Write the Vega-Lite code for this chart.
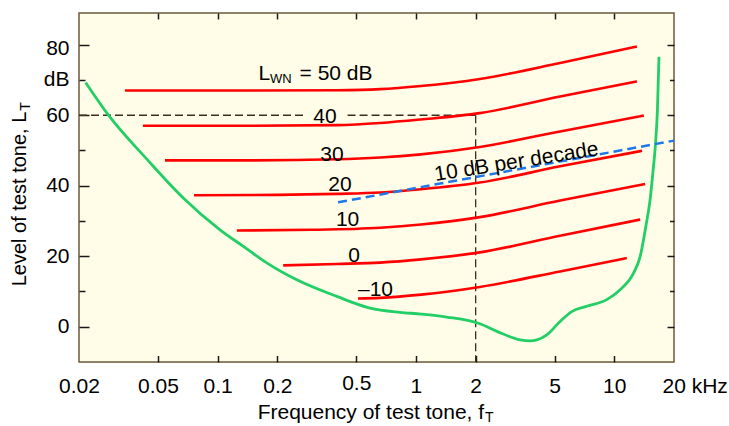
{
  "$schema": "https://vega.github.io/schema/vega-lite/v6.json",
  "width": 595,
  "height": 349,
  "autosize": "none",
  "padding": {"left": 79, "top": 13, "right": 55, "bottom": 64},
  "background": "#ffffff",
  "config": {
    "view": {"fill": "#FFFDE8", "stroke": "#6B5A3A", "strokeWidth": 1.5},
    "font": "Liberation Sans",
    "axis": {"labelFont": "Liberation Sans", "labelColor": "#000000", "tickColor": "#1a1a1a", "tickWidth": 1.5, "domain": false, "grid": false, "labelOverlap": false, "labelFlush": false, "labelBound": false},
    "text": {"font": "Liberation Sans", "color": "#000000"}
  },
  "datasets": {
    "masked": [
      {"wn": 50, "freq": 0.0341, "level": 67.0}, {"wn": 50, "freq": 0.15, "level": 67.0}, {"wn": 50, "freq": 0.4, "level": 67.1}, {"wn": 50, "freq": 0.66, "level": 67.4}, {"wn": 50, "freq": 1.06, "level": 68.3}, {"wn": 50, "freq": 2.1, "level": 70.3}, {"wn": 50, "freq": 5.33, "level": 74.8}, {"wn": 50, "freq": 13.0, "level": 79.5},
      {"wn": 40, "freq": 0.042, "level": 57.0}, {"wn": 40, "freq": 0.15, "level": 57.0}, {"wn": 40, "freq": 0.4, "level": 57.2}, {"wn": 40, "freq": 0.66, "level": 57.8}, {"wn": 40, "freq": 1.06, "level": 58.8}, {"wn": 40, "freq": 2.1, "level": 60.6}, {"wn": 40, "freq": 5.33, "level": 65.3}, {"wn": 40, "freq": 13.0, "level": 69.6},
      {"wn": 30, "freq": 0.0543, "level": 47.2}, {"wn": 30, "freq": 0.15, "level": 47.2}, {"wn": 30, "freq": 0.4, "level": 47.5}, {"wn": 30, "freq": 0.66, "level": 48.0}, {"wn": 30, "freq": 1.06, "level": 48.9}, {"wn": 30, "freq": 2.1, "level": 51.0}, {"wn": 30, "freq": 5.33, "level": 55.4}, {"wn": 30, "freq": 14.1, "level": 59.9},
      {"wn": 20, "freq": 0.076, "level": 37.3}, {"wn": 20, "freq": 0.2, "level": 37.4}, {"wn": 20, "freq": 0.4, "level": 37.7}, {"wn": 20, "freq": 0.66, "level": 38.1}, {"wn": 20, "freq": 1.06, "level": 39.0}, {"wn": 20, "freq": 2.1, "level": 40.9}, {"wn": 20, "freq": 5.33, "level": 45.5}, {"wn": 20, "freq": 13.8, "level": 49.9},
      {"wn": 10, "freq": 0.125, "level": 27.3}, {"wn": 10, "freq": 0.3, "level": 27.5}, {"wn": 10, "freq": 0.66, "level": 28.1}, {"wn": 10, "freq": 1.06, "level": 29.0}, {"wn": 10, "freq": 2.1, "level": 31.1}, {"wn": 10, "freq": 5.33, "level": 35.8}, {"wn": 10, "freq": 14.3, "level": 40.5},
      {"wn": 0, "freq": 0.214, "level": 17.4}, {"wn": 0, "freq": 0.4, "level": 17.8}, {"wn": 0, "freq": 0.66, "level": 18.2}, {"wn": 0, "freq": 1.06, "level": 19.1}, {"wn": 0, "freq": 2.1, "level": 21.1}, {"wn": 0, "freq": 5.33, "level": 25.8}, {"wn": 0, "freq": 13.5, "level": 30.4},
      {"wn": -10, "freq": 0.51, "level": 8.0}, {"wn": -10, "freq": 0.66, "level": 8.2}, {"wn": -10, "freq": 1.06, "level": 9.1}, {"wn": -10, "freq": 2.1, "level": 11.3}, {"wn": -10, "freq": 5.33, "level": 15.7}, {"wn": -10, "freq": 11.56, "level": 19.5}
    ],
    "quiet": [
      {"freq": 0.0216, "level": 69.3}, {"freq": 0.0281, "level": 60.1}, {"freq": 0.0442, "level": 47.4}, {"freq": 0.0669, "level": 36.6}, {"freq": 0.1028, "level": 27.5}, {"freq": 0.1348, "level": 22.8}, {"freq": 0.1768, "level": 18.1}, {"freq": 0.2506, "level": 13.3}, {"freq": 0.3986, "level": 8.6}, {"freq": 0.587, "level": 5.3}, {"freq": 0.831, "level": 4.1}, {"freq": 1.06, "level": 3.6}, {"freq": 1.43, "level": 2.75}, {"freq": 2.1, "level": 0.85}, {"freq": 2.56, "level": -1.3}, {"freq": 3.35, "level": -3.7}, {"freq": 3.76, "level": -4.0}, {"freq": 4.07, "level": -3.7}, {"freq": 4.57, "level": -2.3}, {"freq": 5.33, "level": 1.5}, {"freq": 6.1, "level": 4.3}, {"freq": 7.26, "level": 5.8}, {"freq": 9.16, "level": 7.7}, {"freq": 10.7, "level": 10.5}, {"freq": 12.5, "level": 15.2}, {"freq": 13.5, "level": 19.9}, {"freq": 14.47, "level": 28.9}, {"freq": 15.15, "level": 36.0}, {"freq": 15.7, "level": 44.5}, {"freq": 16.15, "level": 52.2}, {"freq": 16.5, "level": 61.6}, {"freq": 16.8, "level": 76.6}
    ],
    "slope": [
      {"freq": 0.405, "level": 35.3}, {"freq": 20, "level": 52.8}
    ],
    "guides": [
      {"seg": "h1", "k": 1, "freq": 0.02, "level": 60}, {"seg": "h1", "k": 2, "freq": 0.272, "level": 60},
      {"seg": "h2", "k": 1, "freq": 0.452, "level": 60}, {"seg": "h2", "k": 2, "freq": 2, "level": 60},
      {"seg": "v", "k": 1, "freq": 2, "level": 60}, {"seg": "v", "k": 2, "freq": 2, "level": -10}
    ],
    "curveLabels": [
      {"freq": 0.348, "level": 57.7, "text": "40"},
      {"freq": 0.377, "level": 47.1, "text": "30"},
      {"freq": 0.414, "level": 38.4, "text": "20"},
      {"freq": 0.452, "level": 28.5, "text": "10"},
      {"freq": 0.487, "level": 18.4, "text": "0"},
      {"freq": 0.625, "level": 8.65, "text": "–10"}
    ]
  },
  "layer": [
    {
      "data": {"name": "guides"},
      "mark": {"type": "line", "color": "#3B2E1A", "strokeWidth": 1.3, "strokeDash": [8, 4]},
      "encoding": {
        "x": {"field": "freq", "type": "quantitative", "scale": {"type": "log", "domain": [0.02, 20], "nice": false}, "axis": null},
        "y": {"field": "level", "type": "quantitative", "scale": {"domain": [-10, 89], "nice": false, "zero": false}, "axis": null},
        "detail": {"field": "seg"},
        "order": {"field": "k"}
      }
    },
    {
      "data": {"name": "masked"},
      "mark": {"type": "line", "color": "#FF0000", "strokeWidth": 2.6, "interpolate": "monotone"},
      "encoding": {
        "x": {"field": "freq", "type": "quantitative", "scale": {"type": "log", "domain": [0.02, 20], "nice": false},
              "axis": {"orient": "top", "values": [0.05, 0.1, 0.2, 0.5, 1, 2, 5, 10], "labels": false, "ticks": true, "tickSize": -6, "title": null}},
        "y": {"field": "level", "type": "quantitative", "scale": {"domain": [-10, 89], "nice": false, "zero": false},
              "axis": {"orient": "right", "values": [0, 10, 20, 30, 40, 50, 60, 70, 80], "labels": false, "ticks": true,
                       "tickSize": {"condition": {"test": "datum.value % 20 == 0", "value": -7}, "value": -4.5}, "title": null}},
        "detail": {"field": "wn"}
      }
    },
    {
      "data": {"name": "quiet"},
      "mark": {"type": "line", "color": "#22CF66", "strokeWidth": 2.8, "interpolate": "monotone"},
      "encoding": {
        "x": {"field": "freq", "type": "quantitative", "scale": {"type": "log", "domain": [0.02, 20], "nice": false},
              "axis": {"orient": "bottom", "values": [0.02, 0.05, 0.1, 0.2, 0.5, 1, 2, 5, 10, 20], "ticks": false, "labelFontSize": 21,
                       "labelPadding": {"condition": {"test": "datum.value == 0.5", "value": 10}, "value": 13},
                       "labelExpr": "datum.value == 20 ? '20 kHz' : format(datum.value, '~g')",
                       "labelAlign": {"condition": {"test": "datum.value == 20", "value": "left"}, "value": "center"},
                       "labelOffset": {"condition": {"test": "datum.value == 20", "value": -12}, "value": 0},
                       "title": null}},
        "y": {"field": "level", "type": "quantitative", "scale": {"domain": [-10, 89], "nice": false, "zero": false},
              "axis": {"orient": "left", "values": [0, 10, 20, 30, 40, 50, 60, 70, 80], "ticks": false, "labelFontSize": 21, "labelPadding": 10,
                       "labelBaseline": "middle",
                       "labelOffset": {"condition": {"test": "datum.value == 80", "value": 4}, "value": 0},
                       "labelExpr": "datum.value == 70 ? 'dB' : (datum.value % 20 == 0 ? format(datum.value, 'd') : '')",
                       "title": null}}
      }
    },
    {
      "data": {"name": "slope"},
      "mark": {"type": "line", "color": "#1E78E8", "strokeWidth": 2.5, "strokeDash": [9, 5]},
      "encoding": {
        "x": {"field": "freq", "type": "quantitative", "scale": {"type": "log", "domain": [0.02, 20], "nice": false},
              "axis": {"orient": "bottom", "values": [0.05, 0.1, 0.2, 0.5, 1, 2, 5, 10], "labels": false, "ticks": true, "tickSize": -6.5, "title": null}},
        "y": {"field": "level", "type": "quantitative", "scale": {"domain": [-10, 89], "nice": false, "zero": false},
              "axis": {"orient": "left", "values": [0, 10, 20, 30, 40, 50, 60, 70, 80], "labels": false, "ticks": true,
                       "tickSize": {"condition": {"test": "datum.value % 20 == 0", "value": -10}, "value": -6}, "title": null}}
      }
    },
    {
      "data": {"name": "curveLabels"},
      "mark": {"type": "text", "fontSize": 21, "align": "center", "baseline": "alphabetic"},
      "encoding": {
        "x": {"field": "freq", "type": "quantitative", "scale": {"type": "log", "domain": [0.02, 20], "nice": false}, "axis": null},
        "y": {"field": "level", "type": "quantitative", "scale": {"domain": [-10, 89], "nice": false, "zero": false}, "axis": null},
        "text": {"field": "text"}
      }
    },
    {
      "data": {"values": [{"freq": 0.1608, "level": 70.07, "text": "L"}]},
      "mark": {"type": "text", "fontSize": 21, "align": "left", "baseline": "alphabetic"},
      "encoding": {
        "x": {"field": "freq", "type": "quantitative", "scale": {"type": "log", "domain": [0.02, 20], "nice": false}, "axis": null},
        "y": {"field": "level", "type": "quantitative", "scale": {"domain": [-10, 89], "nice": false, "zero": false}, "axis": null},
        "text": {"field": "text"}
      }
    },
    {
      "data": {"values": [{"freq": 0.1608, "level": 70.07, "text": "WN"}]},
      "mark": {"type": "text", "fontSize": 13, "align": "left", "baseline": "alphabetic", "dx": 11.5, "dy": 3.5},
      "encoding": {
        "x": {"field": "freq", "type": "quantitative", "scale": {"type": "log", "domain": [0.02, 20], "nice": false}, "axis": null},
        "y": {"field": "level", "type": "quantitative", "scale": {"domain": [-10, 89], "nice": false, "zero": false}, "axis": null},
        "text": {"field": "text"}
      }
    },
    {
      "data": {"values": [{"freq": 0.1608, "level": 70.07, "text": "= 50 dB"}]},
      "mark": {"type": "text", "fontSize": 21, "align": "left", "baseline": "alphabetic", "dx": 41},
      "encoding": {
        "x": {"field": "freq", "type": "quantitative", "scale": {"type": "log", "domain": [0.02, 20], "nice": false}, "axis": null},
        "y": {"field": "level", "type": "quantitative", "scale": {"domain": [-10, 89], "nice": false, "zero": false}, "axis": null},
        "text": {"field": "text"}
      }
    },
    {
      "data": {"values": [{"freq": 3.25, "level": 45.0, "text": "10 dB per decade"}]},
      "mark": {"type": "text", "fontSize": 21, "align": "center", "baseline": "alphabetic", "angle": 351},
      "encoding": {
        "x": {"field": "freq", "type": "quantitative", "scale": {"type": "log", "domain": [0.02, 20], "nice": false}, "axis": null},
        "y": {"field": "level", "type": "quantitative", "scale": {"domain": [-10, 89], "nice": false, "zero": false}, "axis": null},
        "text": {"field": "text"}
      }
    },
    {
      "data": {"values": [{"freq": 2.206, "level": -26.3, "text": "Frequency of test tone, f"}]},
      "mark": {"type": "text", "fontSize": 21, "align": "right", "baseline": "alphabetic"},
      "encoding": {
        "x": {"field": "freq", "type": "quantitative", "scale": {"type": "log", "domain": [0.02, 20], "nice": false}, "axis": null},
        "y": {"field": "level", "type": "quantitative", "scale": {"domain": [-10, 89], "nice": false, "zero": false}, "axis": null},
        "text": {"field": "text"}
      }
    },
    {
      "data": {"values": [{"freq": 2.206, "level": -26.3, "text": "T"}]},
      "mark": {"type": "text", "fontSize": 14, "align": "left", "baseline": "alphabetic", "dx": 1, "dy": 2.5},
      "encoding": {
        "x": {"field": "freq", "type": "quantitative", "scale": {"type": "log", "domain": [0.02, 20], "nice": false}, "axis": null},
        "y": {"field": "level", "type": "quantitative", "scale": {"domain": [-10, 89], "nice": false, "zero": false}, "axis": null},
        "text": {"field": "text"}
      }
    },
    {
      "data": {"values": [{"freq": 0.01087, "level": 61.0, "text": "Level of test tone, L"}]},
      "mark": {"type": "text", "fontSize": 20, "align": "right", "baseline": "alphabetic", "angle": 270},
      "encoding": {
        "x": {"field": "freq", "type": "quantitative", "scale": {"type": "log", "domain": [0.02, 20], "nice": false}, "axis": null},
        "y": {"field": "level", "type": "quantitative", "scale": {"domain": [-10, 89], "nice": false, "zero": false}, "axis": null},
        "text": {"field": "text"}
      }
    },
    {
      "data": {"values": [{"freq": 0.01087, "level": 61.0, "text": "T"}]},
      "mark": {"type": "text", "fontSize": 14, "align": "left", "baseline": "alphabetic", "angle": 270, "dx": 1, "dy": 4},
      "encoding": {
        "x": {"field": "freq", "type": "quantitative", "scale": {"type": "log", "domain": [0.02, 20], "nice": false}, "axis": null},
        "y": {"field": "level", "type": "quantitative", "scale": {"domain": [-10, 89], "nice": false, "zero": false}, "axis": null},
        "text": {"field": "text"}
      }
    }
  ],
  "resolve": {"axis": {"x": "independent", "y": "independent"}}
}
